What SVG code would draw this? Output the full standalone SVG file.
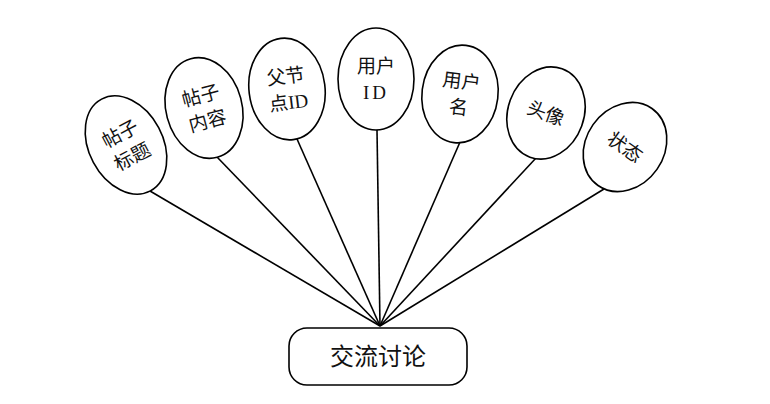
<svg xmlns="http://www.w3.org/2000/svg" width="770" height="404" viewBox="0 0 770 404">
<style>
.n ellipse,.n rect{fill:#fff;stroke:#000;stroke-width:1.6}
.t{font-family:"Liberation Serif","Noto Sans CJK SC",serif;font-size:19px;fill:#111;text-anchor:middle}
.b{font-size:24px}
#edges line{stroke:#000;stroke-width:1.6}
</style>
<rect width="770" height="404" fill="#fff"/>
<g id="edges">
<line x1="150" y1="191" x2="380" y2="326"/>
<line x1="217" y1="157" x2="380" y2="326"/>
<line x1="297" y1="139" x2="380" y2="326"/>
<line x1="377" y1="130" x2="380" y2="326"/>
<line x1="460" y1="142" x2="380" y2="326"/>
<line x1="536" y1="158" x2="380" y2="326"/>
<line x1="604" y1="189" x2="380" y2="326"/>
</g>
<g id="n1" class="n" transform="translate(126,145) rotate(-28)">
<ellipse rx="37" ry="52"/>
<text class="t" y="-6">帖子</text><text class="t" y="20">标题</text>
</g>
<g id="n2" class="n" transform="translate(204,108) rotate(-15)">
<ellipse rx="38" ry="51"/>
<text class="t" y="-6">帖子</text><text class="t" y="20">内容</text>
</g>
<g id="n3" class="n" transform="translate(287,89) rotate(-7)">
<ellipse rx="38" ry="51"/>
<text class="t" y="-6">父节</text><text class="t" y="20">点ID</text>
</g>
<g id="n4" class="n" transform="translate(376,79)">
<ellipse rx="38" ry="51"/>
<text class="t" y="-6">用户</text><text class="t" y="20" letter-spacing="3">ID</text>
</g>
<g id="n5" class="n" transform="translate(460,94) rotate(7)">
<ellipse rx="38" ry="49"/>
<text class="t" y="-6">用户</text><text class="t" y="20">名</text>
</g>
<g id="n6" class="n" transform="translate(546,113) rotate(20)">
<ellipse rx="38" ry="47"/>
<text class="t" y="7">头像</text>
</g>
<g id="n7" class="n" transform="translate(625,147) rotate(35)">
<ellipse rx="39" ry="47"/>
<text class="t" y="7">状态</text>
</g>
<g id="n8" class="n">
<rect x="289" y="328" width="178" height="57" rx="18"/>
<text class="t b" x="378" y="365">交流讨论</text>
</g>
</svg>
